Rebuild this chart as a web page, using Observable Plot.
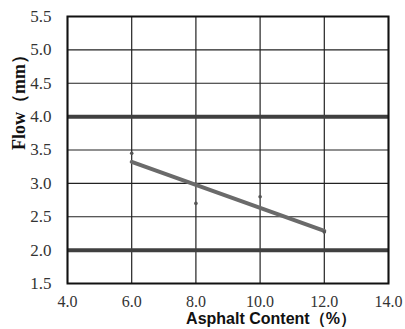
<!DOCTYPE html>
<html><head><meta charset="utf-8">
<script src="https://cdn.jsdelivr.net/npm/d3@7"></script>
<script src="https://cdn.jsdelivr.net/npm/@observablehq/plot@0.6"></script>
<style>body{margin:0;background:#fff}</style>
</head><body><div id="chart"></div>
<script>
const asphalt = [6.0, 8.0, 10.0, 12.0];
const flow = [3.45, 2.70, 2.80, 2.27];
const limits = [2.0, 4.0];
const xTicks = [4, 6, 8, 10, 12, 14];
const yTicks = [1.5, 2.0, 2.5, 3.0, 3.5, 4.0, 4.5, 5.0, 5.5];
const xTitle = "Asphalt Content（%）";
const yTitle = "Flow（mm）";

const data = asphalt.map((x, i) => ({x, y: flow[i]}));
const serif = "'Liberation Serif', 'Times New Roman', serif";
const sans = "'Liberation Sans', Arial, sans-serif";

const chart = Plot.plot({
  width: 405, height: 329,
  marginLeft: 67, marginRight: 17, marginTop: 16, marginBottom: 46,
  style: {fontFamily: serif, fontSize: "16px", color: "#333", background: "#fff"},
  x: {domain: [4, 14], ticks: xTicks},
  y: {domain: [1.5, 5.5], ticks: yTicks},
  marks: [
    Plot.gridX(xTicks, {stroke: "#222", strokeOpacity: 1, strokeWidth: 1.2}),
    Plot.gridY(yTicks, {stroke: "#222", strokeOpacity: 1, strokeWidth: 1.2}),
    Plot.ruleY(limits, {stroke: "#404040", strokeWidth: 4}),
    Plot.linearRegressionY(data, {x: "x", y: "y", ci: 0, stroke: "#6a6a6a", strokeWidth: 4}),
    Plot.dot(data, {x: "x", y: "y", r: 1.8, fill: "#555", stroke: null}),
    Plot.frame({stroke: "#111", strokeWidth: 2}),
    Plot.axisX(xTicks, {tickSize: 0, tickPadding: 12, label: null, tickFormat: d => d.toFixed(1), fontFamily: serif, fontSize: 16, fill: "#333"}),
    Plot.axisY(yTicks, {tickSize: 0, tickPadding: 16, label: null, tickFormat: d => d.toFixed(1), fontFamily: serif, fontSize: 17, fill: "#333"}),
    Plot.text([xTitle], {frameAnchor: "bottom", dx: 43, dy: 40, fontFamily: sans, fontWeight: "bold", fontSize: 16, fill: "#111"}),
    Plot.text([yTitle], {frameAnchor: "left", dx: -48, rotate: -90, fontFamily: serif, fontWeight: "bold", fontSize: 18, fill: "#111"})
  ]
});
document.getElementById("chart").appendChild(chart);
</script></body></html>
